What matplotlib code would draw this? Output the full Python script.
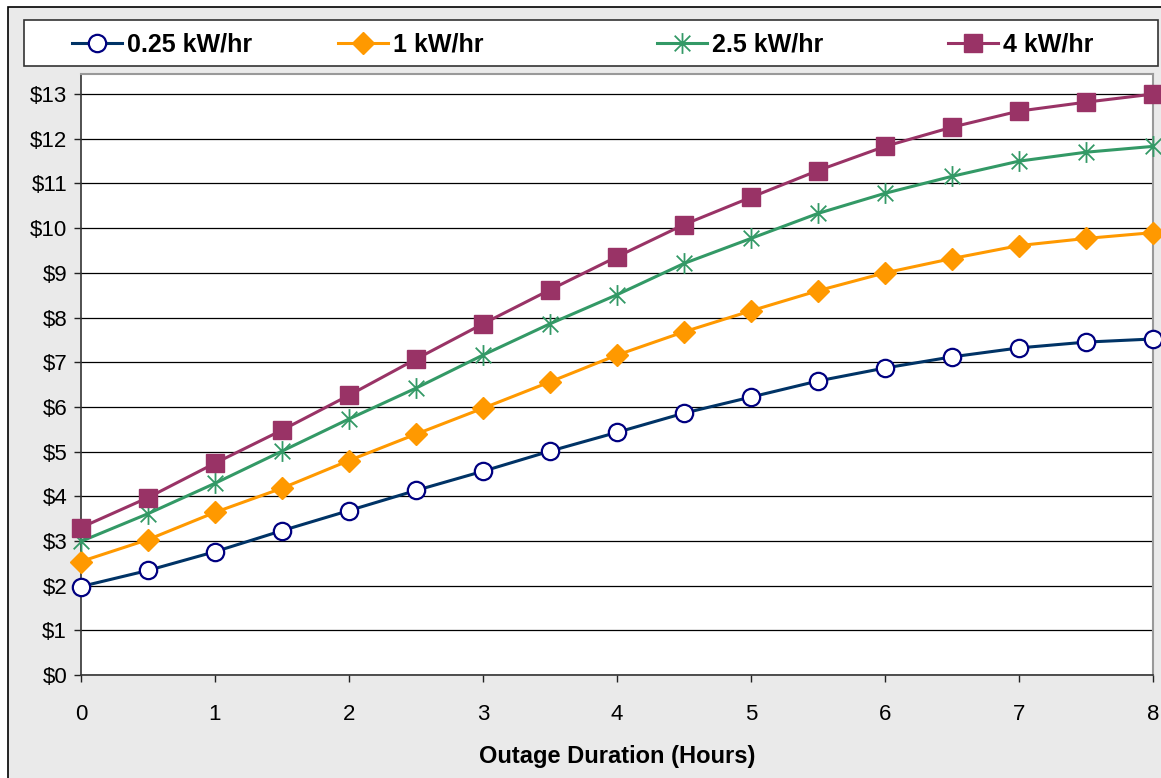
import numpy as np
import matplotlib
matplotlib.use("Agg")
import matplotlib.pyplot as plt
from matplotlib.patches import Rectangle
from matplotlib.path import Path

plt.rcParams['font.family'] = ['Liberation Sans', 'DejaVu Sans']

# outage duration (hours) and cost per series
hours = [0, 0.5, 1, 1.5, 2, 2.5, 3, 3.5, 4, 4.5, 5, 5.5, 6, 6.5, 7, 7.5, 8]
cost_025 = [1.98, 2.34, 2.76, 3.23, 3.68, 4.13, 4.56, 5.01, 5.43, 5.86, 6.22, 6.58, 6.87, 7.12, 7.32, 7.45, 7.52]
cost_1 = [2.54, 3.03, 3.64, 4.18, 4.80, 5.39, 5.97, 6.56, 7.16, 7.68, 8.15, 8.60, 9.00, 9.32, 9.61, 9.77, 9.90]
cost_25 = [2.99, 3.61, 4.29, 5.01, 5.73, 6.42, 7.16, 7.86, 8.51, 9.21, 9.77, 10.33, 10.78, 11.16, 11.50, 11.70, 11.83]
cost_4 = [3.30, 3.97, 4.74, 5.48, 6.26, 7.07, 7.86, 8.62, 9.36, 10.08, 10.69, 11.29, 11.83, 12.26, 12.62, 12.82, 13.00]
labels = ["0.25 kW/hr", "1 kW/hr", "2.5 kW/hr", "4 kW/hr"]
xticks = [0, 1, 2, 3, 4, 5, 6, 7, 8]
yticks = list(range(0, 14))

# excel style star: X with a vertical bar
star = Path([(0, -1), (0, 1), (-0.75, -0.75), (0.75, 0.75), (-0.75, 0.75), (0.75, -0.75)],
            [Path.MOVETO, Path.LINETO, Path.MOVETO, Path.LINETO, Path.MOVETO, Path.LINETO])

W, H = 1161, 778
fig = plt.figure(figsize=(W / 100, H / 100), dpi=100)
fig.patch.set_facecolor("white")
# grey chart-area frame
fig.patches.append(Rectangle((8 / W, -0.01), 1.05, (H - 7) / H + 0.01,
                             transform=fig.transFigure, facecolor="#EAEAEA",
                             edgecolor="black", linewidth=1.2, zorder=-10))
# legend frame
fig.patches.append(Rectangle((24 / W, (H - 66) / H), (1158 - 24) / W, 46 / H,
                             transform=fig.transFigure, facecolor="white",
                             edgecolor="#333333", linewidth=1.2, zorder=-5))

ax = fig.add_axes([81 / W, (H - 675) / H, (1153 - 81) / W, (675 - 74) / H])
ax.set_facecolor("white")

lines = []
lines += ax.plot(hours, cost_025, color="#003366", lw=2.2, marker="o", ms=12.5,
                 mfc="white", mec="#000080", mew=1.6, clip_on=False, zorder=5)
lines += ax.plot(hours, cost_1, color="#FF9900", lw=2.2, marker="D", ms=11,
                 mfc="#FF9900", mec="#FF9900", clip_on=False, zorder=5)
lines += ax.plot(hours, cost_25, color="#339966", lw=2.2, marker=star, ms=15,
                 mfc="#339966", mec="#339966", mew=1.3, clip_on=False, zorder=5)
lines += ax.plot(hours, cost_4, color="#993366", lw=2.2, marker="s", ms=13,
                 mfc="#993366", mec="#993366", clip_on=False, zorder=5)

ax.set_xlim(0, 8)
ax.set_ylim(0, 13.45)
ax.set_xticks(xticks)
ax.set_yticks(yticks)
ax.set_yticklabels(["$%d" % v for v in yticks])
ax.yaxis.grid(True, color="black", lw=0.9)
ax.set_axisbelow(True)
ax.tick_params(axis="both", direction="out", length=5, width=1, labelsize=16, colors="#222222", labelcolor="black")
ax.tick_params(axis="x", pad=16)
ax.tick_params(axis="y", pad=5)
for side in ["top", "right"]:
    ax.spines[side].set_color("#999999")
    ax.spines[side].set_linewidth(1.5)
for side in ["left", "bottom"]:
    ax.spines[side].set_color("#333333")
    ax.spines[side].set_linewidth(1.2)

ax.set_xlabel("Outage Duration (Hours)", fontsize=17, fontweight="bold", labelpad=14)

# legend entries placed one by one, like excel spreads them
entry_x = [72, 338, 657, 948]
for line, lab, ex in zip(lines, labels, entry_x):
    fig.legend([line], [lab], loc="center left", bbox_to_anchor=(ex / W, (H - 45) / H),
               frameon=False, borderpad=0, borderaxespad=0,
               prop={"size": 18, "weight": "bold"}, handlelength=2.0, handletextpad=0.2)

fig.savefig("out.png", dpi=100, facecolor=fig.get_facecolor())
